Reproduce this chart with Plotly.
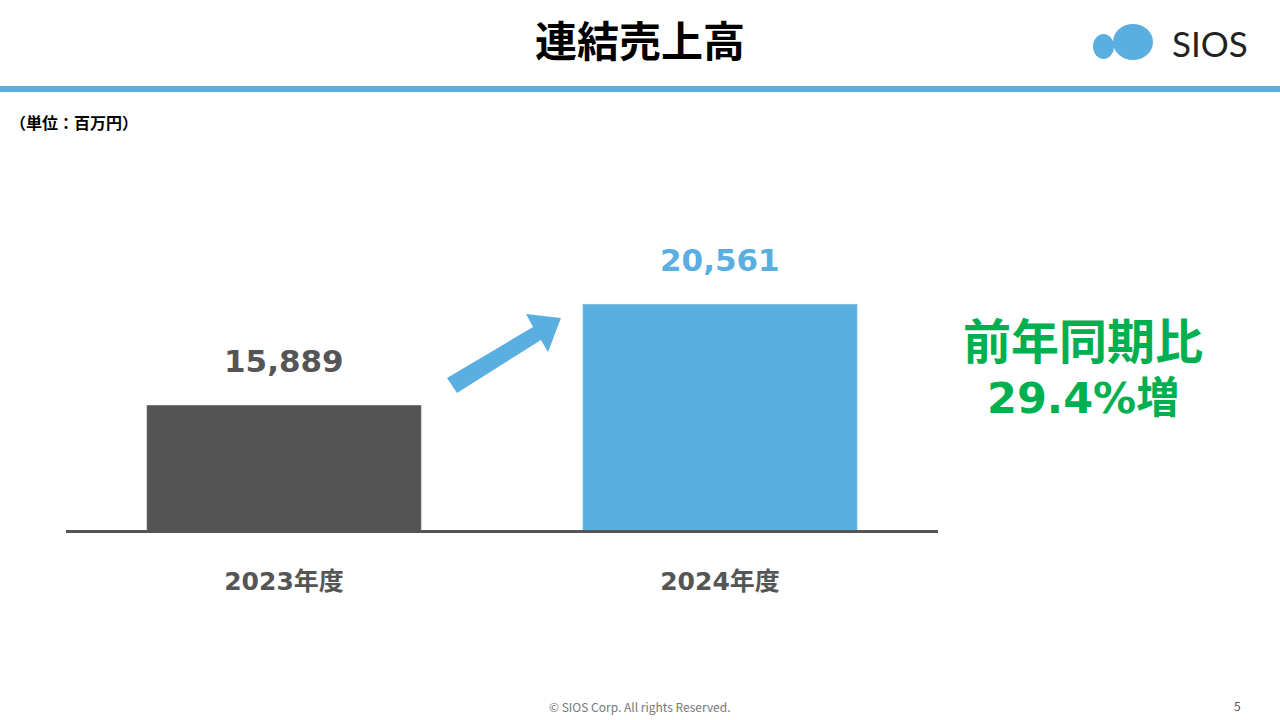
import plotly.graph_objects as go

categories = ["2023年度", "2024年度"]
values = [15889, 20561]
value_labels = ["15,889", "20,561"]
bar_colors = ["#545454", "#5aaee0"]
label_colors = ["#555555", "#5aaee0"]

W, H = 1280, 720
def px(x): return x / W
def py(y): return 1 - y / H
VF = "DejaVu Sans, Noto Sans CJK JP"

fig = go.Figure(go.Bar(x=categories, y=values, marker_color=bar_colors, width=0.63, hoverinfo="skip"))
for c, v, t, col in zip(categories, values, value_labels, label_colors):
    fig.add_annotation(x=c, y=v, text=f"<b>{t}</b>", showarrow=False, yanchor="middle", yshift=44,
                       font=dict(size=31, color=col, family=VF))
fig.update_layout(
    width=W, height=H, margin=dict(l=0, r=0, t=0, b=0),
    paper_bgcolor="white", plot_bgcolor="white", showlegend=False,
    font=dict(family="Noto Sans CJK JP"),
    xaxis=dict(domain=[px(66), px(938)], range=[-0.5, 1.5], showline=True,
               linecolor="#555555", linewidth=3, ticks="", showgrid=False,
               tickmode="array", tickvals=categories, ticktext=[f"<b>{c}</b>" for c in categories],
               tickfont=dict(size=25, color="#555555", family=VF), ticklabelstandoff=27),
    yaxis=dict(domain=[py(530), py(180)], range=[10106, 26300], visible=False),
)
fig.add_shape(type="rect", xref="paper", yref="paper", x0=0, x1=1, y0=py(92), y1=py(86),
              fillcolor="#5aaee0", line_width=0)
pts = [(447, 378), (533, 327), (526, 314), (561, 318), (548, 352), (541, 340), (457, 393)]
path = "M " + " L ".join(f"{px(a)},{py(b)}" for a, b in pts) + " Z"
fig.add_shape(type="path", xref="paper", yref="paper", path=path, fillcolor="#5aaee0", line_width=0)
fig.add_shape(type="circle", xref="paper", yref="paper", x0=px(1093), x1=px(1114), y0=py(59), y1=py(34),
              fillcolor="#5aaee0", line_width=0)
fig.add_shape(type="circle", xref="paper", yref="paper", x0=px(1113), x1=px(1153), y0=py(60), y1=py(24),
              fillcolor="#5aaee0", line_width=0)

def txt(x, y, s, size, color="black", bold=True, xanchor="center", fam="Noto Sans CJK JP"):
    fig.add_annotation(x=px(x), y=py(y), xref="paper", yref="paper", text=f"<b>{s}</b>" if bold else s,
                       showarrow=False, xanchor=xanchor, yanchor="middle",
                       font=dict(size=size, color=color, family=fam))

txt(640, 38, "連結売上高", 42)
txt(1210, 43, "SIOS", 35, color="#222222", bold=False, fam="Lato")
txt(8, 122, "（単位：百万円）", 16, xanchor="left")
txt(1083, 338, "前年同期比", 48, color="#00b050")
txt(1083, 398, "29.4%増", 43, color="#00b050", fam=VF)
txt(640, 706, "© SIOS Corp. All rights Reserved.", 12, color="#777777", bold=False)
txt(1237, 705, "5", 12, color="#555555", bold=False)

fig.write_html("out.html", config={"displayModeBar": False})
with open("out.html", encoding="utf-8") as f:
    html = f.read()
html = html.replace("<head>", "<head><style>html,body{margin:0;padding:0;overflow:hidden}</style>", 1)
with open("out.html", "w", encoding="utf-8") as f:
    f.write(html)
